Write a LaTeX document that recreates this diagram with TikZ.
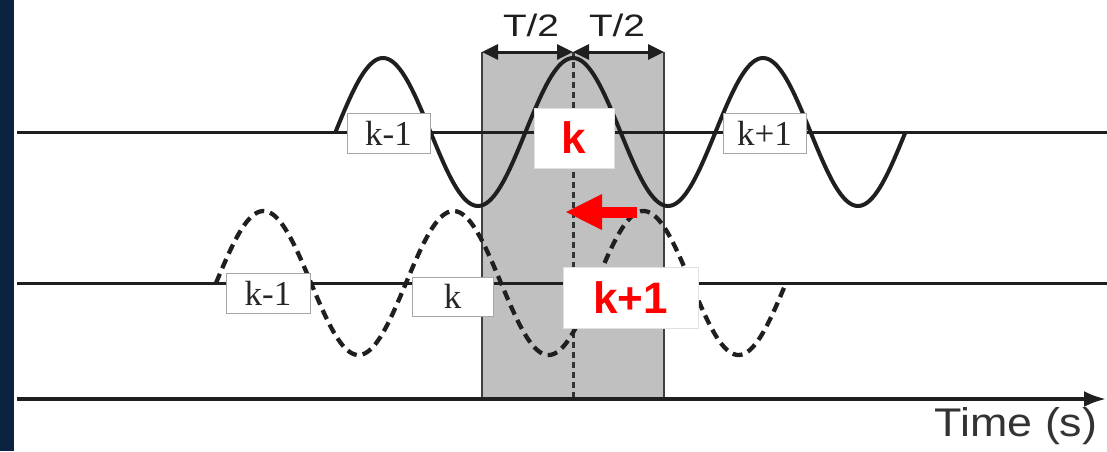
\documentclass[tikz,border=0pt]{standalone}
\usepackage{fontspec}
\setmainfont{Liberation Sans}
\newfontfamily\lblserif{Liberation Serif}
\usetikzlibrary{arrows.meta}
\definecolor{navybar}{HTML}{0B2341}
\definecolor{boxgray}{HTML}{C0C0C0}
\begin{document}
\begin{tikzpicture}[x=1pt,y=-1pt,
  baseln/.style={line width=3pt, black!88},
  wave/.style={line width=4pt, black!88},
  dwave/.style={line width=4.3pt, black!88, dash pattern=on 10pt off 6pt},
  lbl/.style={draw=black!35, line width=0.8pt, fill=white, inner sep=0pt,
    minimum width=83pt, minimum height=40pt,
    font=\lblserif\fontsize{35}{35}\selectfont, text=black!85},
  redbox/.style={draw=black!12, line width=0.8pt, fill=white, inner sep=0pt,
    font=\bfseries\fontsize{44}{44}\selectfont, text=red},
  dimarrow/.style={line width=3pt, black!88,
    {Triangle[length=16pt,width=15pt]}-{Triangle[length=16pt,width=15pt]}},
]
% canvas
\useasboundingbox (0,0) rectangle (1107,451);
\fill[white] (0,0) rectangle (1107,451);
\fill[navybar] (0,0) rectangle (14,451);

% gray window
\coordinate (wl) at (482,52);
\coordinate (wc) at (573,52);
\coordinate (wr) at (664,52);
\coordinate (wlb) at (482,399);
\coordinate (wcb) at (573,399);
\coordinate (wrb) at (664,399);
\fill[boxgray] (wl) rectangle (wrb);
\draw[line width=2pt, black!75] (wl) -- (wlb);
\draw[line width=2pt, black!75] (wr) -- (wrb);

% baselines
\coordinate (b1l) at (17,132);
\coordinate (b1r) at (1107,132);
\coordinate (b2l) at (17,283);
\coordinate (b2r) at (1107,283);
\draw[baseln] (b1l) -- (b1r);
\draw[baseln] (b2l) -- (b2r);

% center dotted line
\draw[line width=3pt, black!80, dash pattern=on 6pt off 4pt] (wc) -- (wcb);

% waves
\draw[wave] plot[domain=335.5:905.5, samples=240, smooth]
  (\x, {132 - 74*cos(1.894737*(\x-573))});
\draw[dwave] plot[domain=216:786, samples=240, smooth]
  (\x, {283 - 72*cos(1.894737*(\x-263.5))});

% time axis
\coordinate (axl) at (17,399);
\coordinate (axr) at (1106,399);
\draw[line width=3.5pt, black!88, -{Latex[length=22pt,width=16pt]}] (axl) -- (axr);

% labels
\node[lbl] (tkm) at (388.5,133) {k-1};
\node[lbl] (tkp) at (764.5,133.5) {k+1};
\node[redbox, minimum width=80pt, minimum height=60pt] (tk) at (574,138) {k};
\node[lbl, minimum width=84pt] (bkm) at (268,293) {k-1};
\node[lbl, minimum width=81pt, minimum height=39pt] (bk) at (452.5,296.5) {k};
\node[redbox, minimum width=135pt, minimum height=61pt] (bkp) at (630.5,297.5) {k+1};

% red shift arrow
\coordinate (ra1) at (637,212);
\coordinate (ra2) at (565,212);
\draw[red, line width=11pt, -{Triangle[length=37pt,width=33pt]}] (ra1) -- (ra2);

% T/2 dimension arrows
\draw[dimarrow] (wl) -- (wc);
\draw[dimarrow] (wc) -- (wr);
\node[font=\fontsize{31}{31}\selectfont, text=black!88, xscale=1.25] (t1) at (531,25) {T/2};
\node[font=\fontsize{31}{31}\selectfont, text=black!88, xscale=1.25] (t2) at (617,25) {T/2};

% axis title
\node[font=\fontsize{40}{40}\selectfont, text=black!80, xscale=1.12] (tt) at (1016,426) {Time (s)};
\end{tikzpicture}
\end{document}
